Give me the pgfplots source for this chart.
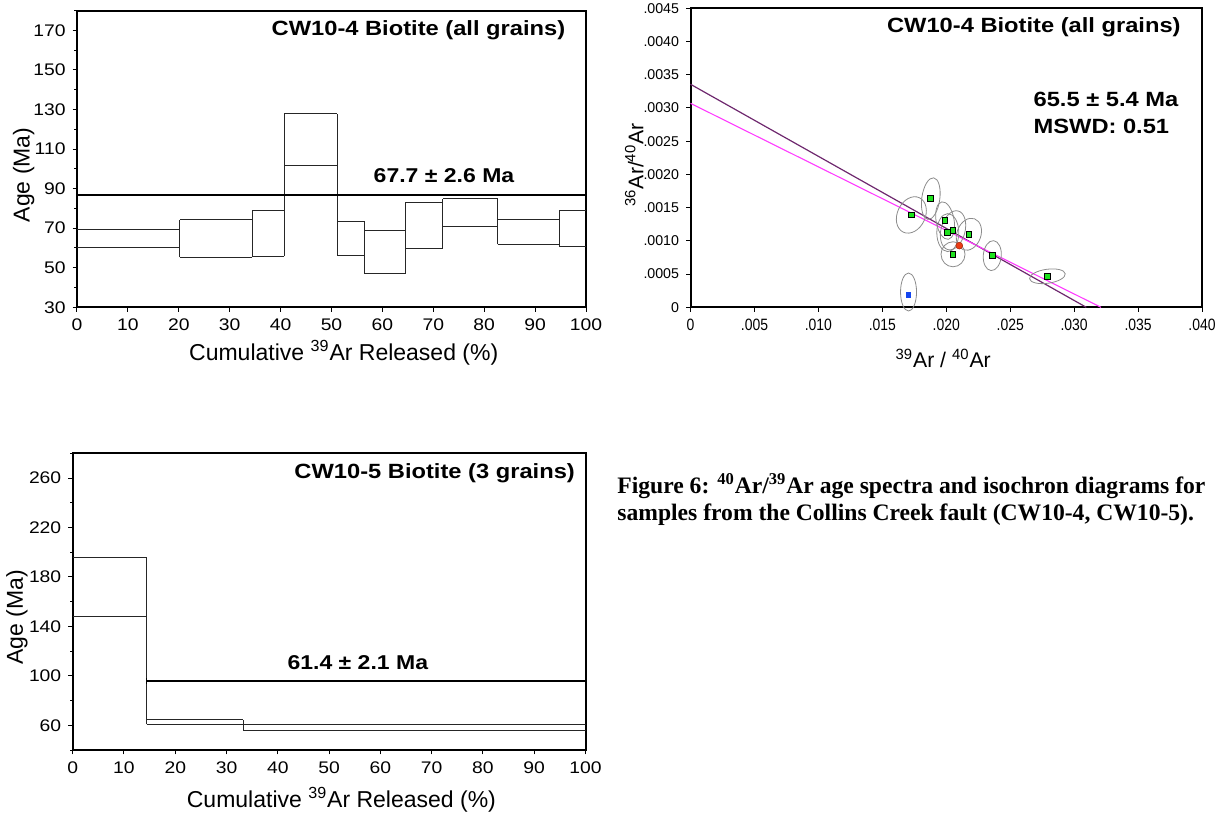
\documentclass[border=0pt]{standalone}
\usepackage{pgfplots}
\pgfplotsset{compat=1.18}
\usepackage{pgfplotstable}
\usepackage{fontspec}
\setmainfont{Liberation Sans}[FakeStretch=1.15]
\newfontfamily\labfont{Liberation Sans}
\newfontfamily\narrowfont{Liberation Sans}[FakeStretch=0.85]
\newfontfamily\capfont{Liberation Serif}
\definecolor{isogreen}{RGB}{30,225,30}
\definecolor{isored}{RGB}{235,60,20}
\definecolor{isoblue}{RGB}{20,70,240}
\definecolor{isopurple}{RGB}{110,40,110}
\definecolor{isomag}{RGB}{255,60,255}

\pgfplotstableread{
x y
0.01727 0.001390
0.01879 0.001636
0.01991 0.001305
0.02012 0.001124
0.02053 0.001159
0.02177 0.001099
0.02053 0.000798
0.02360 0.000778
0.02791 0.000467
}\greenpts

\pgfplotstableread{
x y
0.02102 0.000928
}\redpts

\pgfplotstableread{
x y
0.01705 0.000186
}\bluepts

% ellipse centre, semi-axes (pt) and rotation
\pgfplotstableread{
x y a b r
0.01727 0.001390 7.0 9.5 -25
0.01879 0.001636 4.5 10.5 -8
0.01991 0.001305 4.5 9.5 10
0.02012 0.001124 5.5 9.5 0
0.02053 0.001159 6.0 10.0 -15
0.02177 0.001099 6.0 8.25 -20
0.02053 0.000798 6.0 6.25 0
0.02360 0.000778 4.5 7.5 -5
0.02791 0.000467 9.0 3.5 8
0.01705 0.000230 4.0 9.5 0
}\ellipses

\pgfplotsset{
  argon/.style={
    scale only axis,
    anchor=south west,
    axis line style={line width=1pt},
    tick style={line width=0.5pt, black},
    major tick length=2.2pt,
    minor tick length=1.3pt,
    tick align=outside,
    xtick pos=left, ytick pos=left,
    tick label style={font=\fontsize{8.4}{9}\selectfont},
    label style={font=\labfont\fontsize{11.5}{13}\selectfont},
    /pgf/number format/assume math mode=true,
    scaled ticks=false,
  },
}

\begin{document}
\begin{tikzpicture}
\path[use as bounding box] (0pt,0pt) rectangle (610.5pt,-406.5pt);

% ---------- top left: age spectrum CW10-4 ----------
\begin{axis}[argon,
  at={(38.5pt,-153.65pt)}, width=254.5pt, height=148.4pt,
  xmin=0, xmax=100, ymin=30, ymax=180,
  xtick={0,10,...,100},
  ytick={30,50,...,170}, minor ytick={40,60,...,180},
  xlabel={Cumulative \textsuperscript{39}Ar Released (\%)},
  ylabel={Age (Ma)},
  xlabel style={at={(axis description cs:0.524,-0.153)}, anchor=center},
  ylabel style={at={(axis description cs:-0.105,0.446)}, anchor=center},
]
\addplot[black!85, line width=0.5pt, unbounded coords=jump] coordinates {
(0,60.3)(20.2,60.3)(nan,nan) (0,69.3)(20.2,69.3)(nan,nan)
(20.2,55.3)(34.4,55.3)(nan,nan) (20.2,74.3)(34.4,74.3)(nan,nan)
(34.4,55.8)(40.7,55.8)(nan,nan) (34.4,78.9)(40.7,78.9)(nan,nan)
(40.7,101.9)(51.1,101.9)(nan,nan) (40.7,127.9)(51.1,127.9)(nan,nan)
(51.1,56.4)(56.5,56.4)(nan,nan) (51.1,73.5)(56.5,73.5)(nan,nan)
(56.5,47.0)(64.5,47.0)(nan,nan) (56.5,68.7)(64.5,68.7)(nan,nan)
(64.5,59.8)(71.9,59.8)(nan,nan) (64.5,83.1)(71.9,83.1)(nan,nan)
(71.9,70.8)(82.7,70.8)(nan,nan) (71.9,84.9)(82.7,84.9)(nan,nan)
(82.7,61.8)(94.7,61.8)(nan,nan) (82.7,74.6)(94.7,74.6)(nan,nan)
(94.7,60.8)(100,60.8)(nan,nan) (94.7,78.7)(100,78.7)(nan,nan)
(20.2,55.3)(20.2,74.3)(nan,nan)
(34.4,55.3)(34.4,78.9)(nan,nan)
(40.7,55.8)(40.7,127.9)(nan,nan)
(51.1,56.4)(51.1,127.9)(nan,nan)
(56.5,47.0)(56.5,73.5)(nan,nan)
(64.5,47.0)(64.5,83.1)(nan,nan)
(71.9,59.8)(71.9,84.9)(nan,nan)
(82.7,61.8)(82.7,84.9)(nan,nan)
(94.7,60.8)(94.7,78.7)
};
\addplot[black, line width=1pt] coordinates {(0,86.8)(100,86.8)};
\node[font=\fontsize{10.3}{12}\selectfont\bfseries, anchor=east, inner sep=0pt]
  at (axis description cs:0.96,0.934) {CW10-4 Biotite (all grains)};
\node[font=\fontsize{10}{12}\selectfont\bfseries, anchor=center, inner sep=0pt]
  at (axis cs:72.1,96.8) {67.7 ± 2.6 Ma};
\end{axis}

% ---------- top right: isochron CW10-4 ----------
\begin{axis}[argon,
  at={(345.25pt,-153.65pt)}, width=255.75pt, height=149.5pt,
  clip=false,
  xmin=0, xmax=0.04, ymin=0, ymax=0.0045,
  xtick={0,0.005,0.01,0.015,0.02,0.025,0.03,0.035,0.04},
  xticklabels={0,.005,.010,.015,.020,.025,.030,.035,.040},
  ytick={0,0.0005,0.001,0.0015,0.002,0.0025,0.003,0.0035,0.004,0.0045},
  yticklabels={0,.0005,.0010,.0015,.0020,.0025,.0030,.0035,.0040,.0045},
  yticklabel style={font=\labfont\fontsize{7.1}{8}\selectfont},
  xticklabel style={font=\narrowfont\fontsize{8.2}{9}\selectfont},
  label style={font=\labfont\fontsize{10.6}{12}\selectfont},
  xlabel={\textsuperscript{39}Ar / \textsuperscript{40}Ar},
  ylabel={\textsuperscript{36}Ar/\textsuperscript{40}Ar},
  xlabel style={at={(axis description cs:0.494,-0.17)}, anchor=center},
  ylabel style={at={(axis description cs:-0.11,0.476)}, anchor=center},
]
\addplot[scatter, only marks, mark=o, mark size=1pt,
  scatter/use mapped color={draw=black!45, fill=none},
  visualization depends on={\thisrow{a} \as \ea},
  visualization depends on={\thisrow{b} \as \eb},
  visualization depends on={\thisrow{r} \as \er},
  scatter/@pre marker code/.append style={/tikz/rotate=\er, /tikz/xscale=\ea, /tikz/yscale=\eb},
  mark options={line width=0.4pt},
] table[x=x, y=y] {\ellipses};
\addplot[isopurple, line width=0.6pt] coordinates {(0,0.003357)(0.03095,0)};
\addplot[isomag, line width=0.55pt] coordinates {(0,0.00307)(0.0321,0)};
\addplot[only marks, mark=square*, mark size=1.4pt,
  mark options={fill=isogreen, draw=black, line width=0.5pt}] table[x=x, y=y] {\greenpts};
\addplot[only marks, mark=*, mark size=1.7pt,
  mark options={fill=isored, draw=isored!75!black, line width=0.3pt}] table[x=x, y=y] {\redpts};
\addplot[only marks, mark=square*, mark size=1.1pt,
  mark options={fill=isoblue, draw=isoblue}] table[x=x, y=y] {\bluepts};
\node[font=\fontsize{10.3}{12}\selectfont\bfseries, anchor=east, inner sep=0pt]
  at (axis description cs:0.959,0.938) {CW10-4 Biotite (all grains)};
\node[font=\fontsize{10.3}{12}\selectfont\bfseries, anchor=west, inner sep=0pt]
  at (axis description cs:0.670,0.696) {65.5 ± 5.4 Ma};
\node[font=\fontsize{10.3}{12}\selectfont\bfseries, anchor=west, inner sep=0pt]
  at (axis description cs:0.670,0.604) {MSWD: 0.51};
\end{axis}

% ---------- bottom left: age spectrum CW10-5 ----------
\begin{axis}[argon,
  at={(36.35pt,-375pt)}, width=256.4pt, height=148.35pt,
  xmin=0, xmax=100, ymin=40, ymax=280,
  xtick={0,10,...,100},
  ytick={60,100,...,260}, minor ytick={40,80,...,280},
  xlabel={Cumulative \textsuperscript{39}Ar Released (\%)},
  ylabel={Age (Ma)},
  xlabel style={at={(axis description cs:0.524,-0.167)}, anchor=center},
  ylabel style={at={(axis description cs:-0.109,0.448)}, anchor=center},
]
\addplot[black!85, line width=0.5pt, unbounded coords=jump] coordinates {
(0,148.3)(14.4,148.3)(nan,nan) (0,195.9)(14.4,195.9)(nan,nan)
(14.4,61.0)(33.3,61.0)(nan,nan) (14.4,64.5)(33.3,64.5)(nan,nan)
(33.3,56.0)(100,56.0)(nan,nan) (33.3,60.3)(100,60.3)(nan,nan)
(14.4,61.0)(14.4,195.9)(nan,nan)
(33.3,56.0)(33.3,64.5)
};
\addplot[black, line width=1pt] coordinates {(14.4,95.8)(100,95.8)};
\addplot[black, line width=0.6pt] coordinates {(14.4,93.3)(14.4,98.3)};
\node[font=\fontsize{10.3}{12}\selectfont\bfseries, anchor=east, inner sep=0pt]
  at (axis description cs:0.98,0.933) {CW10-5 Biotite (3 grains)};
\node[font=\fontsize{10}{12}\selectfont\bfseries, anchor=center, inner sep=0pt]
  at (axis cs:55.6,111) {61.4 ± 2.1 Ma};
\end{axis}

% ---------- caption ----------
\node[anchor=base west, inner sep=0pt, font=\capfont\bfseries\fontsize{11.8}{13}\selectfont]
  at (308.5pt,-246.5pt) {Figure 6: \textsuperscript{40}Ar/\textsuperscript{39}Ar age spectra and isochron diagrams for};
\node[anchor=base west, inner sep=0pt, font=\capfont\bfseries\fontsize{11.8}{13}\selectfont]
  at (308.5pt,-260pt) {samples from the Collins Creek fault (CW10-4, CW10-5).};
\end{tikzpicture}
\end{document}
